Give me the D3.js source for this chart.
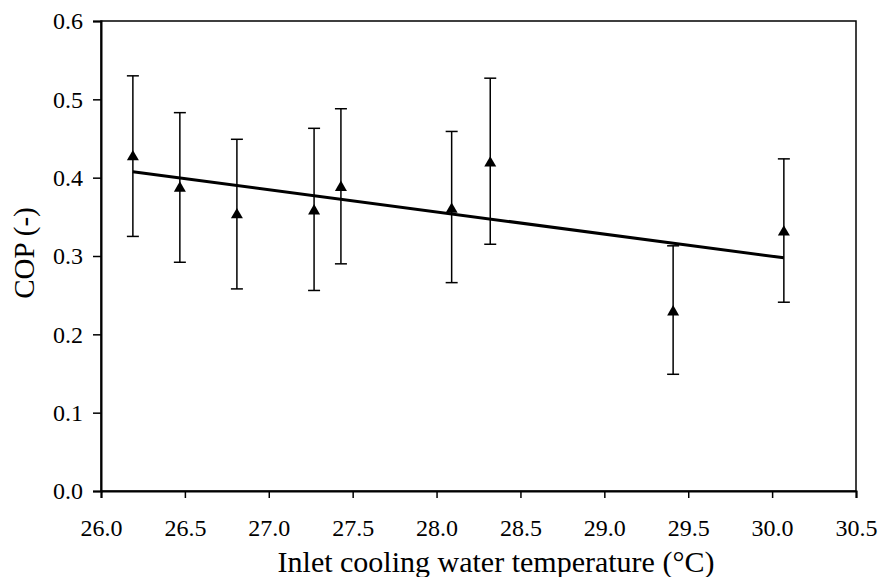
<!DOCTYPE html>
<html>
<head>
<meta charset="utf-8">
<script src="https://cdn.jsdelivr.net/npm/d3@7/dist/d3.min.js"></script>
<style>
  html, body { margin: 0; padding: 0; background: #fff; }
  svg { display: block; }
  svg text { font-family: "Liberation Serif", "Times New Roman", serif !important; fill: #000; }
  .tick text { font-size: 24px !important; }
</style>
</head>
<body>
<svg id="chart" width="880" height="577"></svg>
<script>
// ---- data ----
const temperature = [26.19, 26.47, 26.81, 27.27, 27.43, 28.09, 28.32, 29.41, 30.07];
const cop         = [0.428, 0.388, 0.354, 0.359, 0.389, 0.361, 0.420, 0.230, 0.332];
const copUpper    = [0.530, 0.483, 0.449, 0.463, 0.488, 0.459, 0.527, 0.313, 0.424];
const copLower    = [0.325, 0.292, 0.258, 0.256, 0.290, 0.266, 0.315, 0.149, 0.241];
const xTicks = [26.0, 26.5, 27.0, 27.5, 28.0, 28.5, 29.0, 29.5, 30.0, 30.5];
const yTicks = [0.0, 0.1, 0.2, 0.3, 0.4, 0.5, 0.6];
const xTitle = "Inlet cooling water temperature (°C)";
const yTitle = "COP (-)";

// ---- layout ----
const svg = d3.select("#chart");
const plotLeft = 101, plotRight = 856, plotTop = 21, plotBottom = 491;
const serif = '"Liberation Serif", "Times New Roman", serif';

const x = d3.scaleLinear().domain([26.0, 30.5]).range([plotLeft, plotRight]);
const y = d3.scaleLinear().domain([0.0, 0.6]).range([plotBottom, plotTop]);

const points = temperature.map((t, i) => ({ t, v: cop[i], hi: copUpper[i], lo: copLower[i] }));

// plot frame (top & right lines)
svg.append("rect")
  .attr("x", plotLeft).attr("y", plotTop)
  .attr("width", plotRight - plotLeft).attr("height", plotBottom - plotTop)
  .attr("fill", "none").attr("stroke", "#000").attr("stroke-width", 1.5);

// axes
const xAxis = svg.append("g")
  .attr("transform", `translate(0,${plotBottom})`)
  .call(d3.axisBottom(x).tickValues(xTicks).tickFormat(d3.format(".1f")).tickSizeOuter(0).tickSize(7).tickPadding(21));
const yAxis = svg.append("g")
  .attr("transform", `translate(${plotLeft},0)`)
  .call(d3.axisLeft(y).tickValues(yTicks).tickFormat(d3.format(".1f")).tickSizeOuter(0).tickSize(8).tickPadding(10));

[xAxis, yAxis].forEach(g => {
  g.attr("font-family", serif).attr("font-size", 24);
  g.select(".domain").attr("stroke", "#000").attr("stroke-width", 2);
  g.selectAll(".tick line").attr("stroke", "#000").attr("stroke-width", 1.5);
  g.selectAll(".tick text")
    .attr("font-family", serif).attr("font-size", 24)
    .style("font-family", serif)
    .style("font-size", "24px").attr("fill", "#000");
});
xAxis.selectAll(".tick text").attr("dy", "0.71em");

// trend line (least-squares fit of the points, drawn over the data range)
const mx = d3.mean(temperature), my = d3.mean(cop);
const slope = d3.sum(temperature, (t, i) => (t - mx) * (cop[i] - my)) /
              d3.sum(temperature, t => (t - mx) * (t - mx));
const intercept = my - slope * mx;
const tMin = d3.min(temperature), tMax = d3.max(temperature);
const trend = [tMin, tMax].map(t => ({ t, v: intercept + slope * t }));

// error bars
const eb = svg.append("g").attr("stroke", "#000").attr("stroke-width", 1.5);
eb.selectAll("line.stem").data(points).join("line")
  .attr("class", "stem")
  .attr("x1", d => x(d.t)).attr("x2", d => x(d.t))
  .attr("y1", d => y(d.lo)).attr("y2", d => y(d.hi));
eb.selectAll("line.capHi").data(points).join("line")
  .attr("class", "capHi")
  .attr("x1", d => x(d.t) - 6).attr("x2", d => x(d.t) + 6)
  .attr("y1", d => y(d.hi)).attr("y2", d => y(d.hi));
eb.selectAll("line.capLo").data(points).join("line")
  .attr("class", "capLo")
  .attr("x1", d => x(d.t) - 6).attr("x2", d => x(d.t) + 6)
  .attr("y1", d => y(d.lo)).attr("y2", d => y(d.lo));

svg.append("path")
  .datum(trend)
  .attr("fill", "none").attr("stroke", "#000").attr("stroke-width", 3)
  .attr("d", d3.line().x(d => x(d.t)).y(d => y(d.v)));

// triangle markers
const tri = "M0,-5.8 L6,4.6 L-6,4.6 Z";
svg.append("g").selectAll("path").data(points).join("path")
  .attr("d", tri)
  .attr("transform", d => `translate(${x(d.t)},${y(d.v)})`)
  .attr("fill", "#000");

// axis titles
svg.append("text")
  .attr("x", 496).attr("y", 572)
  .attr("text-anchor", "middle")
  .style("font-size", "30px")
  .text(xTitle);

svg.append("text")
  .attr("transform", `translate(34,${(plotTop + plotBottom) / 2 - 3}) rotate(-90)`)
  .attr("text-anchor", "middle")
  .style("font-size", "29px")
  .text(yTitle);
</script>
</body>
</html>
